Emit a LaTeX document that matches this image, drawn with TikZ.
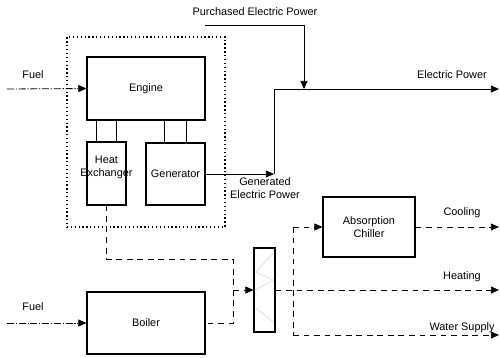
\documentclass[tikz,border=0pt]{standalone}
\usepackage{fontspec}
\setmainfont{Liberation Sans}
\usetikzlibrary{arrows.meta, positioning}

\begin{document}
\begin{tikzpicture}[
    x=0.03cm, y=-0.03cm,
    >={Triangle[length=7pt, width=6pt]},
    unit/.style={rectangle, draw, line width=0.9pt, inner sep=0pt, align=center, font=\fontsize{9.3}{11.2}\selectfont},
    txt/.style={font=\fontsize{9.3}{11.2}\selectfont, align=center, inner sep=1pt},
    fuel/.style={->, line width=0.7pt, dash pattern=on 6pt off 1.5pt on 1pt off 1.5pt},
    elec/.style={line width=0.8pt},
    heat/.style={line width=0.8pt, dash pattern=on 5pt off 4pt},
    hatch/.style={gray!45, line width=0.3pt}
  ]
  \useasboundingbox (0,0) rectangle (500,357);

  % Units
  \node[draw, line width=1pt, dash pattern=on 1.1pt off 2.2pt, minimum width=4.74cm, minimum height=5.7cm] (cogen) at (146,132) {};
  \node[unit, minimum width=3.54cm, minimum height=1.89cm] (engine) at (146,88.5) {Engine};
  \node[unit, minimum width=1.17cm, minimum height=1.89cm] (hx) at (106.5,173.5) {};
  \node[txt] (hxtext) at (106.5,167) {Heat\\Exchanger};
  \node[unit, minimum width=1.77cm, minimum height=1.86cm] (gen) at (175.5,174) {Generator};
  \node[unit, minimum width=3.54cm, minimum height=1.86cm] (boiler) at (146,323) {Boiler};
  \node[unit, minimum width=0.63cm, minimum height=2.52cm] (tank) at (264.5,290) {};
  \node[unit, minimum width=2.76cm, minimum height=1.8cm] (chiller) at (369,227) {Absorption\\Chiller};

  % Shafts
  \draw[line width=0.9pt] (hx.107) -- (hx.107 |- engine.south);
  \draw[line width=0.9pt] (hx.73) -- (hx.73 |- engine.south);
  \draw[line width=0.9pt] (gen.109) -- (gen.109 |- engine.south);
  \draw[line width=0.9pt] (gen.71) -- (gen.71 |- engine.south);

  % Tank hatching
  \draw[hatch] (273,253) -- (256,272) -- (273,280) -- (256,290);
  \draw[hatch] (256,308) -- (273,322);

  % Points
  \coordinate (fuela) at (7,89);
  \coordinate (fuelb) at (7,323);
  \coordinate (gjoin) at (274,174);
  \coordinate (ejoin) at (274,89);
  \coordinate (eout) at (499,89);
  \coordinate (pstart) at (205,25);
  \coordinate (pcorner) at (304,25);
  \coordinate (pjoin) at (304,89);
  \coordinate (hcorner) at (233,259);
  \coordinate (bcorner) at (233,323);
  \coordinate (tin) at (233,290);
  \coordinate (vtop) at (293,227);
  \coordinate (vbot) at (293,335);
  \coordinate (cout) at (499,227);
  \coordinate (hout) at (499,290);
  \coordinate (wout) at (499,335);

  % Flows
  \draw[fuel] (fuela) -- (engine.west);
  \draw[fuel] (fuelb) -- (boiler.west);
  \draw[elec, ->] (gen.east |- gjoin) -- (gjoin);
  \draw[elec, ->] (gjoin) -- (ejoin) -- (eout);
  \draw[elec, ->] (pstart) -- (pcorner) -- (pjoin);
  \draw[heat] (hx.south) |- (hcorner) -- (bcorner) -- (boiler.east |- bcorner);
  \draw[heat, ->] (tin) -- (tank.west);
  \draw[heat, ->] (tank.east) -- (hout);
  \draw[heat] (vtop) -- (vbot);
  \draw[heat, ->] (vtop) -- (chiller.west);
  \draw[heat, ->] (chiller.east) -- (cout);
  \draw[heat, ->] (vbot) -- (wout);

  % Labels
  \node[txt] (lfuela) at (33,75) {Fuel};
  \node[txt] (lfuelb) at (33,307) {Fuel};
  \node[txt] (lbuy) at (255,12) {Purchased Electric Power};
  \node[txt] (lelec) at (452,75) {Electric Power};
  \node[txt] (lgen) at (265,188.5) {Generated\\Electric Power};
  \node[txt] (lcool) at (462,213) {Cooling};
  \node[txt] (lheat) at (462,277) {Heating};
  \node[txt] (lwater) at (462,328) {Water Supply};

\end{tikzpicture}
\end{document}
